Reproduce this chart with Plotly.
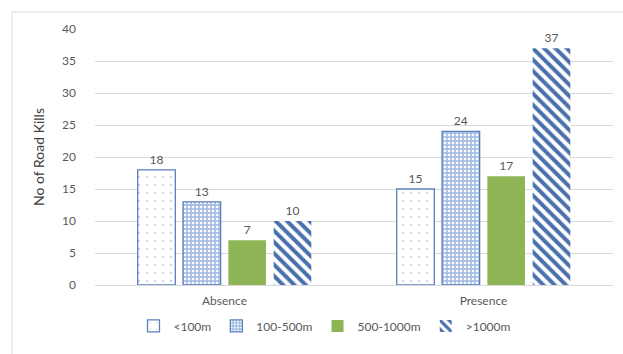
import plotly.graph_objects as go

categories = ["Absence", "Presence"]
series_names = ["<100m", "100-500m", "500-1000m", ">1000m"]
lt_100 = [18, 15]
m100_500 = [13, 24]
m500_1000 = [7, 17]
gt_1000 = [10, 37]
y_ticks = [0, 5, 10, 15, 20, 25, 30, 35, 40]

FONT = "Lato"
TXT = "#595959"
BLUE = "#5A80BE"
GREEN = "#8DB556"

fig = go.Figure()

label_font = dict(family=FONT, size=12, color=TXT)

fig.add_trace(go.Bar(
    name=series_names[0], x=categories, y=lt_100,
    text=lt_100, textposition="outside", textfont=label_font, cliponaxis=False,
    marker=dict(color="white", line=dict(color=BLUE, width=1.3),
                pattern=dict(shape=".", fgcolor="#B4C3DD", bgcolor="white", fgopacity=1,
                             size=8, solidity=0.04, fillmode="overlay")),
))
fig.add_trace(go.Bar(
    name=series_names[1], x=categories, y=m100_500,
    text=m100_500, textposition="outside", textfont=label_font, cliponaxis=False,
    marker=dict(color="#A6BDE3", line=dict(color=BLUE, width=1.3),
                pattern=dict(shape=".", fgcolor="white", bgcolor="#A6BDE3", fgopacity=1,
                             size=4, solidity=0.35, fillmode="overlay")),
))
fig.add_trace(go.Bar(
    name=series_names[2], x=categories, y=m500_1000,
    text=m500_1000, textposition="outside", textfont=label_font, cliponaxis=False,
    marker=dict(color=GREEN, line=dict(width=0)),
))
fig.add_trace(go.Bar(
    name=series_names[3], x=categories, y=gt_1000,
    text=gt_1000, textposition="outside", textfont=label_font, cliponaxis=False,
    marker=dict(color="white", line=dict(width=0),
                pattern=dict(shape="\\", fgcolor="#4A70AC", bgcolor="white", fgopacity=1,
                             size=8, solidity=0.5, fillmode="overlay")),
))

fig.update_layout(
    width=623, height=354,
    margin=dict(l=95, r=10, t=29, b=69, autoexpand=False),
    paper_bgcolor="white", plot_bgcolor="white",
    barmode="group", bargap=0.3, bargroupgap=0.17,
    font=dict(family=FONT, size=12, color=TXT),
    showlegend=True,
    legend=dict(orientation="h", x=0.444, xanchor="center", y=-0.16, yanchor="middle",
                font=dict(family=FONT, size=12, color=TXT), itemwidth=30,
                traceorder="normal"),
    xaxis=dict(showgrid=False, showline=True, linecolor="#D9D9D9", linewidth=1,
               ticks="", tickfont=dict(family=FONT, size=12, color=TXT),
               ticklabelstandoff=5),
    yaxis=dict(range=[0, 40], tickvals=y_ticks, showgrid=True, gridcolor="#D9D9D9",
               gridwidth=1, zeroline=False, showline=False, ticks="",
               tickfont=dict(family=FONT, size=12, color=TXT), ticklabelstandoff=18,
               title=dict(text="No of Road Kills", standoff=14,
                          font=dict(family=FONT, size=14, color="#404040"))),
    shapes=[
        dict(type="line", xref="paper", yref="paper", x0=-83/518, x1=1.1,
             y0=(354 - 12 - 69) / 256, y1=(354 - 12 - 69) / 256,
             line=dict(color="#D9D9D9", width=1)),
        dict(type="line", xref="paper", yref="paper", x0=-83/518, x1=-83/518,
             y0=-69 / 256, y1=(354 - 12 - 69) / 256,
             line=dict(color="#D9D9D9", width=1)),
    ],
)

fig.write_html("out.html")
